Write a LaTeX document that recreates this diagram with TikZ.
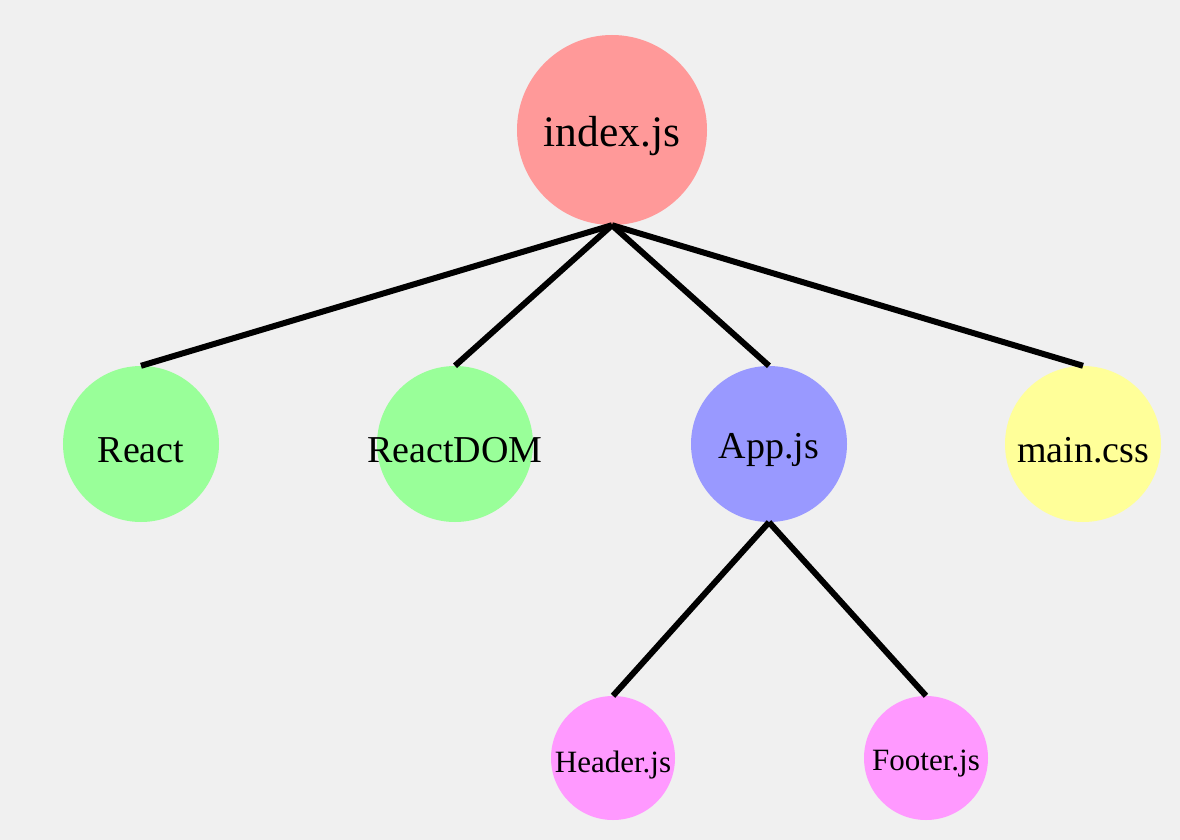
\documentclass[tikz,border=0pt]{standalone}
\usepackage{fontspec}
\setmainfont{Liberation Serif}
\begin{document}
\begin{tikzpicture}[x=1bp,y=-1bp,
  filenode/.style={circle, inner sep=0pt, draw=none},
  big/.style={filenode, minimum size=190bp},
  mid/.style={filenode, minimum size=156bp},
  small/.style={filenode, minimum size=124bp},
  bigtext/.style={inner sep=0pt, font=\fontsize{43.5bp}{48bp}\selectfont},
  midtext/.style={inner sep=0pt, font=\fontsize{38bp}{42bp}\selectfont},
  smalltext/.style={inner sep=0pt, font=\fontsize{31bp}{34bp}\selectfont},
  link/.style={line width=6bp, black}]
\fill[fill={rgb,255:red,240;green,240;blue,240}] (0,0) rectangle (1180,840);
\useasboundingbox (0,0) rectangle (1180,840);
\definecolor{cred}{RGB}{255,153,153}
\definecolor{cgreen}{RGB}{153,255,153}
\definecolor{cblue}{RGB}{153,153,255}
\definecolor{cyellow}{RGB}{255,255,153}
\definecolor{cpink}{RGB}{255,153,255}
\node[big, fill=cred] (index) at (612,130) {};
\node[mid, fill=cgreen] (react) at (141,444) {};
\node[mid, fill=cgreen] (reactdom) at (455,444) {};
\node[mid, fill=cblue] (app) at (769,444) {};
\node[mid, fill=cyellow] (css) at (1083,444) {};
\node[small, fill=cpink] (header) at (613,758) {};
\node[small, fill=cpink] (footer) at (926,758) {};
\node[bigtext] (indext) at ([yshift=-6bp]index.center) {index.js};
\node[midtext] (reactt) at ([yshift=-6bp]react.center) {React};
\node[midtext] (reactdomt) at ([yshift=-6bp]reactdom.center) {ReactDOM};
\node[midtext] (appt) at ([yshift=-6bp]app.center) {App.js};
\node[midtext] (csst) at ([yshift=-6bp]css.center) {main.css};
\node[smalltext] (headert) at ([yshift=-7bp]header.center) {Header.js};
\node[smalltext] (footert) at ([yshift=-6bp]footer.center) {Footer.js};
\draw[link] (index.south) -- (react.north);
\draw[link] (index.south) -- (reactdom.north);
\draw[link] (index.south) -- (app.north);
\draw[link] (index.south) -- (css.north);
\draw[link] (app.south) -- (header.north);
\draw[link] (app.south) -- (footer.north);
\end{tikzpicture}
\end{document}
